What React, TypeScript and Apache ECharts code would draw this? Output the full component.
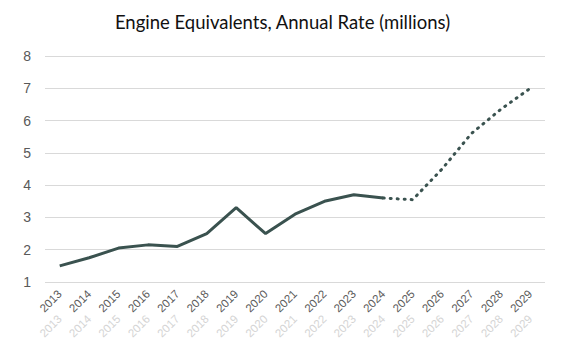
import React, { useEffect, useRef } from "react";
import * as echarts from "echarts";

const categories = ["2013","2014","2015","2016","2017","2018","2019","2020","2021","2022","2023","2024","2025","2026","2027","2028","2029"];
const actual = [1.5, 1.75, 2.05, 2.15, 2.1, 2.5, 3.3, 2.5, 3.1, 3.5, 3.7, 3.6, null, null, null, null, null];
const forecast = [null, null, null, null, null, null, null, null, null, null, null, 3.6, 3.55, 4.5, 5.6, 6.35, 7.0];
const titleText = "Engine Equivalents, Annual Rate (millions)";

export default function App() {
  const ref = useRef<HTMLDivElement>(null);
  useEffect(() => {
    document.body.style.margin = "0";
    const chart = echarts.init(ref.current!, null, { renderer: "svg" });
    const baseX = {
      type: "category",
      data: categories,
      boundaryGap: true,
      axisLine: { show: false },
      axisTick: { show: false },
      splitLine: { show: false },
    };
    chart.setOption({
      animation: false,
      backgroundColor: "#ffffff",
      title: {
        text: titleText,
        left: "center",
        top: 7,
        textStyle: { fontFamily: "Lato", fontWeight: "normal", fontSize: 18.5, color: "#111" },
      },
      grid: { left: 45, right: 20, top: 56, bottom: 69 },
      xAxis: [
        {
          ...baseX,
          axisLabel: { rotate: 45, color: "#5a5a5a", fontFamily: "Arial, 'Liberation Sans'", fontSize: 11.5, margin: 10 },
        },
        {
          ...baseX,
          position: "bottom",
          axisLabel: { rotate: 45, color: "#d4d4d4", fontFamily: "Arial, 'Liberation Sans'", fontSize: 11.5, margin: 35 },
        },
      ],
      yAxis: {
        type: "value",
        min: 1,
        max: 8,
        interval: 1,
        axisLine: { show: false },
        axisTick: { show: false },
        axisLabel: { color: "#595959", fontFamily: "Arial, 'Liberation Sans'", fontSize: 14, margin: 14 },
        splitLine: { lineStyle: { color: "#d9d9d9", width: 1 } },
      },
      series: [
        {
          type: "line",
          data: actual,
          showSymbol: false,
          lineStyle: { color: "#3a524f", width: 3 },
          itemStyle: { color: "#3a524f" },
        },
        {
          type: "line",
          data: forecast,
          showSymbol: false,
          lineStyle: { color: "#3a524f", width: 3, type: [1, 6], cap: "round" },
          itemStyle: { color: "#3a524f" },
        },
      ],
    });
    return () => chart.dispose();
  }, []);
  return <div ref={ref} style={{ width: 565, height: 351 }} />;
}
